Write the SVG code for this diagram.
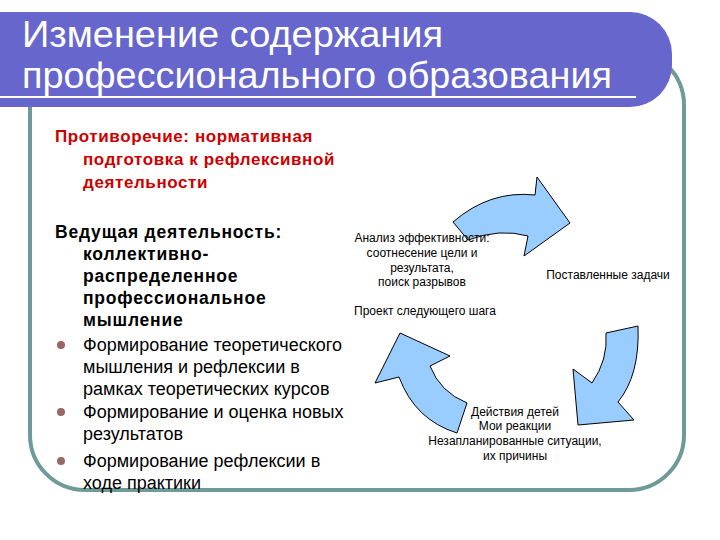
<svg xmlns="http://www.w3.org/2000/svg" width="720" height="540" viewBox="0 0 720 540">
<style>
.t{font-family:"Liberation Sans",Arial,sans-serif}
.title{font-size:37.5px;fill:#ffffff}
.red{font-size:17px;font-weight:bold;fill:#cc0000;letter-spacing:0.6px}
.blk{font-size:18px;fill:#000000}
.b{font-weight:bold;font-size:17.5px;letter-spacing:0.8px}
.sm{font-size:12px;fill:#000000}
.arrow{fill:#99ccff;stroke:#000000;stroke-width:1}
.bul{fill:#996666}
</style>
<rect width="720" height="540" fill="#ffffff"/>
<g id="frame">
<rect x="30" y="50" width="654" height="440" rx="55" ry="55" fill="none" stroke="#6e9a98" stroke-width="4"/>
</g>
<g id="title">
<path d="M0,12 H630 A42,42 0 0 1 672,54 V65 A42,42 0 0 1 630,107 H0 Z" fill="#6666cc"/>
<rect x="0" y="96" width="636" height="2" fill="#ffffff"/>
<text class="t title" x="22" y="47" textLength="421" lengthAdjust="spacingAndGlyphs">Изменение содержания</text>
<text class="t title" x="22" y="88" textLength="590" lengthAdjust="spacingAndGlyphs">профессионального образования</text>
</g>
<g id="contradiction">
<text class="t red" x="55" y="142">Противоречие: нормативная</text>
<text class="t red" x="83" y="165">подготовка к рефлексивной</text>
<text class="t red" x="83" y="188">деятельности</text>
</g>
<g id="leading-activity">
<text class="t blk b" x="55" y="238">Ведущая деятельность:</text>
<text class="t blk b" x="83" y="260">коллективно-</text>
<text class="t blk b" x="83" y="282">распределенное</text>
<text class="t blk b" x="83" y="304">профессиональное</text>
<text class="t blk b" x="83" y="326">мышление</text>
<circle class="bul" cx="61" cy="345" r="4"/>
<text class="t blk" x="83" y="351">Формирование теоретического</text>
<text class="t blk" x="83" y="373">мышления и рефлексии в</text>
<text class="t blk" x="83" y="395">рамках теоретических курсов</text>
<circle class="bul" cx="61" cy="412" r="4"/>
<text class="t blk" x="83" y="418">Формирование и оценка новых</text>
<text class="t blk" x="83" y="440">результатов</text>
<circle class="bul" cx="61" cy="461" r="4"/>
<text class="t blk" x="83" y="467">Формирование рефлексии в</text>
<text class="t blk" x="83" y="489">ходе практики</text>
</g>
<g id="connectors">
<path class="arrow" d="M453,222 Q490,190 535,195 L537,177 L570,223 L524,256 L528,236 Q500,228 468,240 Z"/>
<path class="arrow" d="M606,333 L638,326 Q640,375 618,402 L634,420 L578,425 L573,369 L592,383 Q608,360 606,333 Z"/>
<path class="arrow" d="M467,403 Q440,392 430,366 L450,356 L400,333 L375,383 L399,377 Q415,420 457,433 Z"/>
</g>
<g id="analysis">
<text class="t sm" text-anchor="middle" x="422" y="242">Анализ эффективности:</text>
<text class="t sm" text-anchor="middle" x="422" y="257">соотнесение цели и</text>
<text class="t sm" text-anchor="middle" x="422" y="272">результата,</text>
<text class="t sm" text-anchor="middle" x="422" y="286">поиск разрывов</text>
</g>
<g id="tasks">
<text class="t sm" text-anchor="middle" x="608" y="279">Поставленные задачи</text>
</g>
<g id="project">
<text class="t sm" x="354" y="315">Проект следующего шага</text>
</g>
<g id="actions">
<text class="t sm" text-anchor="middle" x="515" y="416">Действия детей</text>
<text class="t sm" text-anchor="middle" x="515" y="430">Мои реакции</text>
<text class="t sm" text-anchor="middle" x="515" y="445">Незапланированные ситуации,</text>
<text class="t sm" text-anchor="middle" x="515" y="460">их причины</text>
</g>
</svg>
